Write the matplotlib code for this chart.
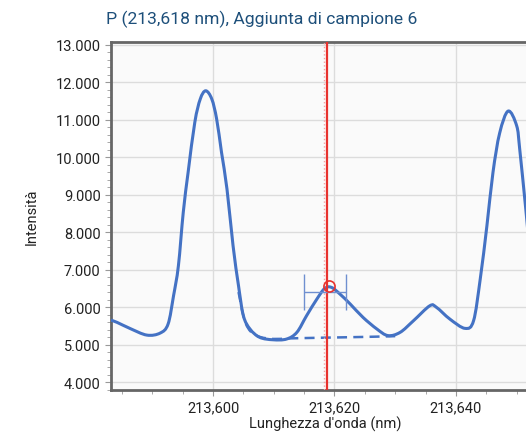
import matplotlib
matplotlib.use('Agg')
import matplotlib.pyplot as plt
from matplotlib.path import Path
from matplotlib.patches import PathPatch
from matplotlib.ticker import MultipleLocator, FuncFormatter

plt.rcParams['font.family'] = ['Roboto', 'DejaVu Sans']

# spectrum (nm, intensity)
wl = [213.5832, 213.5842, 213.5863, 213.5891, 213.5913, 213.5926, 213.5935,
      213.5943, 213.5951, 213.5959, 213.5970, 213.5979, 213.5988, 213.5998,
      213.6006, 213.6014, 213.6023, 213.6033, 213.6042, 213.6050, 213.6061,
      213.6077, 213.6099, 213.6121, 213.6138, 213.6154, 213.6171, 213.6184,
      213.6195, 213.6209, 213.6226, 213.6247, 213.6270, 213.6288,
      213.6308, 213.6330, 213.6357, 213.6368, 213.6390, 213.6415, 213.6429,
      213.6440, 213.6451, 213.6461, 213.6472, 213.6486, 213.6500, 213.6505,
      213.6515, 213.6525, 213.6540]
inten = [5650, 5592, 5432, 5253, 5307, 5547, 6301,
         7101, 8525, 9592, 10925, 11547, 11768, 11547,
         11013, 10125, 9147, 7635, 6568, 5768, 5413,
         5192, 5128, 5147, 5325, 5768, 6213, 6499,
         6525, 6347, 6080, 5725, 5413, 5240,
         5325, 5635, 6035, 5992, 5680, 5432, 5635,
         6747, 8168, 9592, 10640, 11227, 10835, 10213,
         8613, 7000, 5900]

# fitted baseline (dashed)
base_wl = [213.6042, 213.6052, 213.6063, 213.6078, 213.6100, 213.6127,
           213.6170, 213.6220, 213.6265, 213.6300]
base_i = [6400, 5650, 5330, 5200, 5150, 5165, 5180, 5195, 5210, 5225]

peak_wl = 213.6188
peak_i = 6560
bar_y = 6400
bar_lo, bar_hi = 213.6150, 213.6219


def smooth_path(xs, ys):
    # catmull-rom through the points, as cubic bezier segments
    verts = [(xs[0], ys[0])]
    codes = [Path.MOVETO]
    n = len(xs)
    for i in range(n - 1):
        x0, y0 = (xs[i - 1], ys[i - 1]) if i > 0 else (xs[i], ys[i])
        x1, y1 = xs[i], ys[i]
        x2, y2 = xs[i + 1], ys[i + 1]
        x3, y3 = (xs[i + 2], ys[i + 2]) if i + 2 < n else (x2, y2)
        verts += [(x1 + (x2 - x0) / 6, y1 + (y2 - y0) / 6),
                  (x2 - (x3 - x1) / 6, y2 - (y3 - y1) / 6),
                  (x2, y2)]
        codes += [Path.CURVE4] * 3
    return Path(verts, codes)


fig = plt.figure(figsize=(5.26, 4.35), dpi=100)
ax = fig.add_axes([0.211, 0.101, 0.8156, 0.80])
ax.set_facecolor('#fafafa')

ax.add_patch(PathPatch(smooth_path(wl, inten), fill=False, edgecolor='#4472c4',
                       lw=2.2, zorder=3, joinstyle='round', capstyle='round'))
ax.add_patch(PathPatch(smooth_path(base_wl, base_i), fill=False, edgecolor='#4472c4',
                       lw=1.8, ls=(0, (4, 2.5)), zorder=3))

ax.axvline(peak_wl - 0.0006, color='#f4a0a0', lw=1.0, ls=':', zorder=4)
ax.axvline(peak_wl, color='#e8322e', lw=1.6, zorder=4)

ax.errorbar([(bar_lo + bar_hi) / 2], [bar_y], xerr=[(bar_hi - bar_lo) / 2],
            fmt='none', ecolor='#6f8fd0', elinewidth=1.0, capsize=13, capthick=1.0, zorder=5)
ax.plot([peak_wl + 0.0003], [peak_i], 'o', mfc='none', mec='#e8322e', ms=8, mew=1.2, zorder=6)

ax.set_xlim(213.58320, 213.65384)
ax.set_ylim(3787, 13067)

ax.xaxis.set_major_locator(MultipleLocator(0.020))
ax.xaxis.set_minor_locator(MultipleLocator(0.005))
ax.yaxis.set_major_locator(MultipleLocator(1000))
ax.yaxis.set_minor_locator(MultipleLocator(200))
ax.xaxis.set_major_formatter(FuncFormatter(lambda v, p: f'{v:.3f}'.replace('.', ',')))
ax.yaxis.set_major_formatter(FuncFormatter(lambda v, p: f'{int(round(v / 1000))}.000'))

ax.grid(True, which='major', color='#dcdcdc', lw=1.0)
ax.set_axisbelow(True)
ax.tick_params(which='both', colors='#999999', labelcolor='#222222', labelsize=10.5)
ax.tick_params(which='major', length=4)
ax.tick_params(which='minor', length=3)

for s in ['left', 'bottom', 'top']:
    ax.spines[s].set_color('#666666')
    ax.spines[s].set_linewidth(2)
ax.spines['right'].set_visible(False)

ax.set_xlabel("Lunghezza d'onda (nm)", fontsize=10.5, color='#222222', labelpad=1)
ax.set_ylabel('Intensità', fontsize=10.5, color='#222222', labelpad=12)
fig.text(0.498, 0.955, 'P (213,618 nm), Aggiunta di campione 6', ha='center', va='center',
         fontsize=12.6, color='#1d4f7a')

fig.savefig('out.png', dpi=100)
